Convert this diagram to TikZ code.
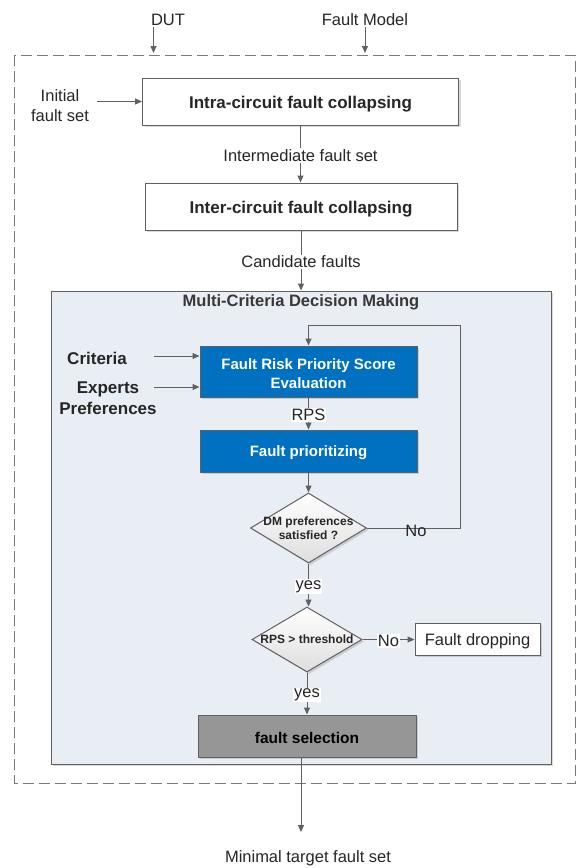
\documentclass[tikz,border=0pt]{standalone}
\usepackage{fontspec}
\setmainfont{Liberation Sans}
\usetikzlibrary{arrows.meta,shapes.geometric,shadows}
\definecolor{ln}{HTML}{606060}
\definecolor{blu}{HTML}{0070C0}
\definecolor{mcdm}{HTML}{E9EDF4}
\definecolor{fsel}{HTML}{969696}
\definecolor{txt}{HTML}{262626}
\definecolor{framegray}{HTML}{7A7A7A}
\begin{document}
\begin{tikzpicture}[x=1pt,y=-1pt,
  arr/.style={-{Triangle[length=7pt,width=6pt]}, draw=ln, line width=1pt},
  shad/.style={drop shadow={opacity=0.3,shadow xshift=2pt,shadow yshift=-2pt}},
  whitebox/.style={draw=ln, fill=white, line width=1pt, shad, inner sep=0pt,
     font=\bfseries\fontsize{17}{20}\selectfont, text=txt, text height=14pt, text depth=0pt},
  bluebox/.style={draw=ln, fill=blu, line width=1pt, shad, inner sep=0pt},
  btext/.style={align=center, inner sep=0pt, font=\bfseries\fontsize{15}{19}\selectfont, text=white},
  decision/.style={diamond, draw=ln, line width=1pt, top color=white, bottom color=black!13,
     shad, inner sep=0pt},
  dtext/.style={font=\bfseries\fontsize{12}{14}\selectfont, text=txt, align=center, inner sep=0pt},
  lab/.style={font=\fontsize{16.5}{20}\selectfont, text=txt, align=center, inner sep=1pt, yshift=-1.5pt},
  blab/.style={font=\bfseries\fontsize{17}{21}\selectfont, text=txt, align=center, inner sep=0pt, yshift=-1pt}
]
\useasboundingbox (0,0) rectangle (576,868);

% outer dashed frame
\draw[draw=framegray, line width=1pt, dash pattern=on 11pt off 5pt] (14.5,55) rectangle (575,783);

% inputs at top
\node[lab] (dut) at (168,18) {DUT};
\node[lab] (fm) at (365,18) {Fault Model};
\coordinate (dutin) at (153.5,53);
\coordinate (fmin) at (365,53);
\draw[arr] (dutin |- 0,27) -- (dutin);
\draw[arr] (fmin |- 0,27) -- (fmin);

% first stages
\node[whitebox, minimum width=316pt, minimum height=47pt] (intra) at (300.5,101.5) {Intra-circuit fault collapsing};
\node[whitebox, minimum width=312pt, minimum height=47pt] (inter) at (301,206.5) {Inter-circuit fault collapsing};
\node[lab] (init) at (60,104) {Initial\\fault set};
\coordinate (initout) at (97,101.5);
\draw[arr] (initout) -- (initout -| intra.west);

% MCDM box
\node[draw=ln, fill=mcdm, line width=1pt, shad, minimum width=500pt, minimum height=473pt, inner sep=0pt] (mcdm) at (301,527.5) {};
\node[font=\bfseries\fontsize{16.5}{20}\selectfont, text=black!78, yshift=-1.5pt] (title) at (301,301) {Multi-Criteria Decision Making};

\draw[arr] (intra.south) -- (intra.south |- inter.north)
  node[midway, lab, fill=white] {Intermediate fault set};
\draw[arr] (inter.south) -- (inter.south |- mcdm.north)
  node[midway, lab, fill=white] {Candidate faults};

% MCDM contents
\node[bluebox, minimum width=217pt, minimum height=51pt] (frps) at (308.5,371.5) {};
\node[btext, yshift=-2pt] (frpst) at (frps) {Fault Risk Priority Score\\Evaluation};
\node[bluebox, minimum width=217pt, minimum height=42pt] (fp) at (308.5,451) {};
\node[btext, yshift=-1.5pt] (fpt) at (fp) {Fault prioritizing};
\node[decision, minimum width=116pt, minimum height=70pt] (d1) at (308.5,528) {};
\node[dtext] (d1t) at (d1) {DM preferences\\satisfied ?};
\node[decision, minimum width=110pt, minimum height=65pt] (d2) at (307,639.5) {};
\node[dtext] (d2t) at (d2) {RPS > threshold};
\node[draw=ln, fill=white, line width=1pt, shad, minimum width=125pt, minimum height=32pt, inner sep=0pt,
  font=\fontsize{16.5}{20}\selectfont, text=txt, text height=12pt, text depth=0pt] (fd) at (477.5,639) {Fault dropping};
\node[draw=ln, fill=fsel, line width=1pt, shad, minimum width=218pt, minimum height=42pt, inner sep=0pt,
  font=\bfseries\fontsize{15.5}{19}\selectfont, text=black, text height=15pt, text depth=0pt] (fs) at (307,736) {fault selection};

\node[blab] (crit) at (97,357) {Criteria};
\node[blab] (exp) at (108,397.5) {Experts\\Preferences};
\coordinate (c1) at (154,356);
\coordinate (c2) at (154,387);
\draw[arr] (c1) -- (c1 -| frps.west);
\draw[arr] (c2) -- (c2 -| frps.west);

\draw[arr] (frps.south) -- (fp.north) node[midway, lab, fill=white] {RPS};
\draw[arr] (fp.south) -- (d1.north);

\coordinate (l1) at (460,528);
\coordinate (l2) at (460,325);
\draw[arr] (d1.east) -- (l1) -- (l2) -- (l2 -| frps.north) -- (frps.north);
\node[lab] (no1) at (416,529) {No};

\draw[arr] (d1.south) -- (d1.south |- d2.north) node[midway, lab, fill=white] {yes};
\draw[arr] (d2.east) -- (d2.east -| fd.west) node[midway, lab, fill=white] {No};
\draw[arr] (d2.south) -- (d2.south |- fs.north) node[midway, lab, fill=white] {yes};

% output
\coordinate (outend) at (301,832);
\draw[arr] (outend |- fs.south) -- (outend);
\node[lab] (final) at (308,857) {Minimal target fault set};
\end{tikzpicture}
\end{document}
